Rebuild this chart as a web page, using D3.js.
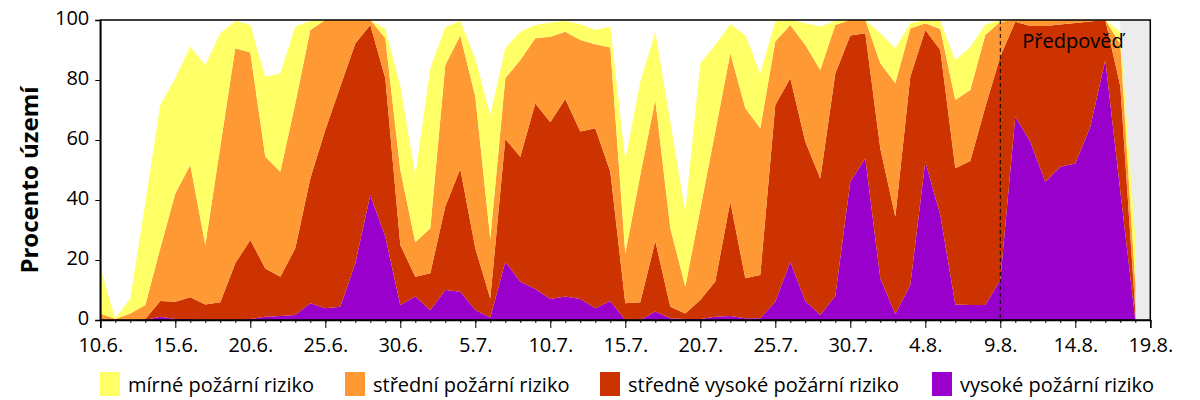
<!DOCTYPE html>
<html><head><meta charset="utf-8">
<script src="https://cdn.jsdelivr.net/npm/d3@7"></script>
<style>
body{margin:0;background:#fff;}
text{font-family:"Open Sans","Noto Sans",sans-serif;fill:#000;}
</style></head>
<body><svg id="c" width="1200" height="400"></svg>
<script>
// Day index 0 = 10.6., 69 = 18.8.
const tickLabels = ["10.6.","15.6.","20.6.","25.6.","30.6.","5.7.","10.7.","15.7.","20.7.","25.7.","30.7.","4.8.","9.8.","14.8.","19.8."];
const seriesNames = ["mírné požární riziko","střední požární riziko","středně vysoké požární riziko","vysoké požární riziko"];
const vysoke = [0,0,0,0,1.1,0.3,0.3,0,0,0,0.3,1.1,1.3,1.7,5.6,3.9,4.4,18.9,41.7,27.8,5,7.8,3.3,10,9.4,3.3,0.8,19.4,12.8,10.3,7,7.8,7,3.9,6.3,0,0,2.8,0.6,0.3,0.3,1.1,1.3,0.6,0.6,6.1,19.4,6.3,1.7,8,46.1,53.9,13.9,1.9,11.7,52.8,35,5.2,5,5,13.3,67.8,59.4,46.1,51.1,52.2,64.4,86.7,43,0];
const strednevysoke = [0,0,0,0.3,5.2,5.8,7.3,5.2,5.9,18.9,26.4,16.1,13.1,22.2,41.6,59.4,73.4,73.3,56.6,52.8,20,6.6,12.3,27.8,40.9,20.6,6.4,40.9,41.6,61.9,58.9,65.9,55.8,60,43.1,5.6,5.9,23.5,3.8,1.9,6.4,11.7,38.1,13.3,14.4,65.6,61.2,53.1,45.5,74.2,48.7,41.7,43.3,32.5,69.4,43.9,55,45.4,48,66,74.5,31.6,38.6,51.9,47.4,46.8,35.1,13.3,35,3];
const stredni = [2.2,0.3,2.2,4.7,17.6,36.1,44.1,19.8,51.9,71.7,62.5,37.2,35,48.3,49.5,36.7,22.2,7.8,1.7,13.3,25,11.5,15,47.2,44.5,50.5,19.8,20.3,32.3,21.7,28.5,22.4,30.5,28,41.4,16.6,42.4,47,26.2,8.9,30.3,50,49.5,56.7,48.9,21.1,17.7,32.3,36.1,16.1,5.2,4.4,28.4,44.5,16.1,2.2,7,22.7,23.7,24,11.6,0.6,2,2,1.5,1,0.5,0,14,9];
const mirne = [15,0.2,5,34,47.8,38.4,39.4,60,37.8,9.1,9.1,26.7,32.8,25.6,3,0,0,0,0,3.1,28,22.4,53.3,12.6,4.9,12.8,41.3,10,9.4,4.4,4.8,3.6,5.3,4.8,7,31.1,31.1,22.8,35.5,25,48.6,28.9,9.7,24.4,18.3,6.9,1.7,7.2,14.5,1.4,0,0,10,11.7,1.7,1.1,2.7,13.4,14.3,3.5,0.6,0,0,0,0,0,0,0,4,15];
const forecastDay = 60, noDataFrom = 68, totalDays = 70;

const colors = ["#ffff66","#ff9933","#cc3300","#9900cc"];
const svg = d3.select("#c");
const L=100.3, R=1150.3, T=20, B=320;
const x = d3.scaleLinear().domain([0,totalDays]).range([L,R]);
const y = d3.scaleLinear().domain([0,100]).range([B,T]);

const rows = vysoke.map((v,i)=>({i, vysoke:v, sv:strednevysoke[i], st:stredni[i], mi:mirne[i]}));
const keys = ["vysoke","sv","st","mi"];
const keyColor = {vysoke:colors[3], sv:colors[2], st:colors[1], mi:colors[0]};
const stacked = d3.stack().keys(keys)(rows);

// no-data background
svg.append("rect").attr("x",x(noDataFrom)).attr("y",T).attr("width",x(totalDays)-x(noDataFrom)).attr("height",B-T).attr("fill","#ececec");

const area = d3.area().x(d=>x(d.data.i)).y0(d=>y(d[0])).y1(d=>y(d[1]));
svg.selectAll("path.a").data(stacked).join("path").attr("class","a")
  .attr("d",area).attr("fill",d=>keyColor[d.key]);

// forecast line
svg.append("line").attr("x1",x(forecastDay)).attr("x2",x(forecastDay)).attr("y1",T).attr("y2",B)
  .attr("stroke","#000").attr("stroke-width",1).attr("stroke-dasharray","4,3");
svg.append("text").attr("x",x(forecastDay)+22).attr("y",48).attr("font-size",20).text("Předpověď");

// frame
svg.append("rect").attr("x",L).attr("y",T).attr("width",R-L).attr("height",B-T).attr("fill","none").attr("stroke","#000").attr("stroke-width",1.5);

// y axis
const yAxis = svg.append("g").attr("transform",`translate(${L},0)`)
  .call(d3.axisLeft(y).tickValues([0,20,40,60,80,100]).tickSize(5).tickPadding(6));
yAxis.select(".domain").attr("stroke","#000").attr("stroke-width",1.5);
yAxis.selectAll("text").attr("font-size",20).attr("font-family","'Open Sans',sans-serif").attr("dy","0.22em");

// x axis minor
const xMinor = svg.append("g").attr("transform",`translate(0,${B})`)
  .call(d3.axisBottom(x).tickValues(d3.range(0,totalDays+1)).tickSize(3).tickFormat(""));
xMinor.select(".domain").remove();
const xAxis = svg.append("g").attr("transform",`translate(0,${B})`)
  .call(d3.axisBottom(x).tickValues(d3.range(0,totalDays+1,5)).tickSize(8).tickPadding(9).tickFormat((d,i)=>tickLabels[i]));
xAxis.select(".domain").attr("stroke","#000").attr("stroke-width",1.5);
xAxis.selectAll("text").attr("font-size",20).attr("font-family","'Open Sans',sans-serif").attr("dy","0.75em");

// y title
svg.append("text").attr("transform","translate(38,180) rotate(-90)").attr("text-anchor","middle")
  .attr("font-size",24).attr("font-weight","bold").text("Procento území");

// legend
const legX = [100,345,600,932];
const lg = svg.append("g");
seriesNames.forEach((n,i)=>{
  lg.append("rect").attr("x",legX[i]).attr("y",372).attr("width",20).attr("height",24).attr("fill",colors[i]);
  lg.append("text").attr("x",legX[i]+28).attr("y",392).attr("font-size",20).text(n);
});
</script></body></html>
